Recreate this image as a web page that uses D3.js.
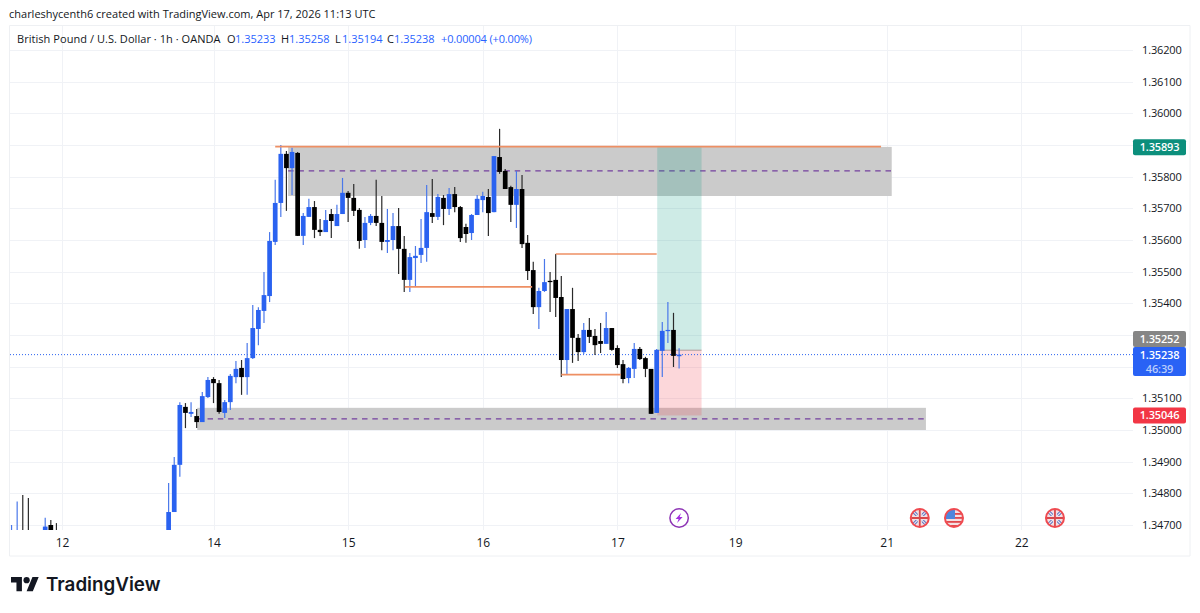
<!DOCTYPE html>
<html>
<head>
<meta charset="utf-8">
<script src="https://cdn.jsdelivr.net/npm/d3@7"></script>
<style>
html,body{margin:0;padding:0;background:#fff;overflow:hidden}
svg{display:block}
text{font-family:"Open Sans",Roboto,sans-serif}
</style>
</head>
<body>
<svg id="c" width="1200" height="613"></svg>
<script>
// ---------- data ----------
const titleText = "charleshycenth6 created with TradingView.com, Apr 17, 2026 11:13 UTC";
const symbolText = "British Pound / U.S. Dollar · 1h · OANDA";
const ohlcLabels = ["O","H","L","C"];
const ohlcValues = ["1.35233","1.35258","1.35194","1.35238"];
const changeText = "+0.00004 (+0.00%)";

const priceTicks = [1.362,1.361,1.360,1.359,1.358,1.357,1.356,1.355,1.354,1.353,1.352,1.351,1.350,1.349,1.348,1.347];
const labelledTicks = [1.362,1.361,1.360,1.358,1.357,1.356,1.355,1.354,1.353,1.351,1.350,1.349,1.348,1.347];
const dayBars   = [-27,0,24,48,72,93,120,144];
const dayLabels = ["12","14","15","16","17","19","21","22"];

const earlyBars  = [-36,-35,-34,-33,-30,-29,-28];
const earlyOpen  = [1.34640,1.34640,1.34670,1.34670,1.34650,1.34700,1.34675];
const earlyHigh  = [1.34700,1.34774,1.34795,1.34785,1.34723,1.34716,1.34706];
const earlyLow   = [1.34630,1.34630,1.34630,1.34630,1.34640,1.34640,1.34640];
const earlyClose = [1.34670,1.34660,1.34640,1.34640,1.34695,1.34650,1.34650];

const firstBar = -8;
const open = [1.34650,1.34741,1.34890,1.35073,1.35051,1.35044,1.35025,1.35104,1.35161,1.35148,
1.35054,1.35088,1.35167,1.35196,1.35167,1.35227,1.35319,1.35376,1.35423,1.35594,
1.35717,1.35872,1.35827,1.35875,1.35613,1.35673,1.35704,1.35632,1.35625,1.35682,
1.35644,1.35682,1.35749,1.35733,1.35695,1.35600,1.35654,1.35676,1.35654,1.35594,
1.35600,1.35644,1.35572,1.35474,1.35543,1.35553,1.35575,1.35685,1.35673,1.35733,
1.35698,1.35745,1.35704,1.35641,1.35622,1.35679,1.35726,1.35736,1.35688,1.35862,
1.35818,1.35767,1.35711,1.35761,1.35591,1.35505,1.35388,1.35439,1.35471,1.35474,
1.35420,1.35221,1.35382,1.35291,1.35246,1.35316,1.35297,1.35281,1.35272,1.35322,
1.35259,1.35208,1.35164,1.35193,1.35256,1.35227,1.35193,1.35054,1.35250,1.35313,
1.35316,1.35233];
const high = [1.34833,1.34915,1.35088,1.35085,1.35088,1.35066,1.35120,1.35167,1.35167,1.35158,
1.35095,1.35177,1.35218,1.35221,1.35275,1.35395,1.35388,1.35499,1.35625,1.35790,
1.35900,1.35881,1.35891,1.35878,1.35685,1.35730,1.35723,1.35666,1.35695,1.35698,
1.35711,1.35796,1.35755,1.35777,1.35701,1.35673,1.35682,1.35790,1.35739,1.35698,
1.35685,1.35701,1.35613,1.35559,1.35581,1.35666,1.35774,1.35793,1.35745,1.35742,
1.35764,1.35767,1.35707,1.35651,1.35682,1.35742,1.35752,1.35761,1.35865,1.35951,
1.35824,1.35771,1.35818,1.35805,1.35616,1.35531,1.35449,1.35540,1.35499,1.35556,
1.35486,1.35382,1.35449,1.35303,1.35338,1.35354,1.35319,1.35338,1.35373,1.35322,
1.35268,1.35221,1.35199,1.35275,1.35262,1.35231,1.35193,1.35256,1.35341,1.35404,
1.35370,1.35258];
const low = [1.34600,1.34741,1.34852,1.35006,1.35041,1.35006,1.35025,1.35101,1.35085,1.35051,
1.35038,1.35063,1.35148,1.35111,1.35111,1.35224,1.35268,1.35338,1.35404,1.35584,
1.35673,1.35692,1.35742,1.35613,1.35584,1.35673,1.35606,1.35613,1.35625,1.35606,
1.35644,1.35682,1.35657,1.35676,1.35572,1.35575,1.35647,1.35644,1.35568,1.35559,
1.35568,1.35493,1.35436,1.35436,1.35452,1.35527,1.35531,1.35654,1.35663,1.35647,
1.35679,1.35688,1.35594,1.35591,1.35600,1.35679,1.35688,1.35613,1.35688,1.35809,
1.35761,1.35657,1.35638,1.35575,1.35474,1.35366,1.35319,1.35436,1.35373,1.35357,
1.35167,1.35177,1.35212,1.35218,1.35240,1.35275,1.35237,1.35243,1.35272,1.35250,
1.35196,1.35148,1.35148,1.35164,1.35221,1.35167,1.35051,1.35054,1.35167,1.35275,
1.35199,1.35194];
const close = [1.34741,1.34890,1.35079,1.35054,1.35057,1.35025,1.35107,1.35158,1.35148,1.35057,
1.35088,1.35171,1.35193,1.35167,1.35227,1.35322,1.35379,1.35426,1.35597,1.35717,
1.35872,1.35827,1.35878,1.35613,1.35676,1.35704,1.35632,1.35625,1.35663,1.35660,
1.35682,1.35749,1.35733,1.35692,1.35597,1.35654,1.35676,1.35654,1.35594,1.35600,
1.35644,1.35572,1.35474,1.35546,1.35550,1.35575,1.35688,1.35673,1.35736,1.35698,
1.35745,1.35704,1.35606,1.35619,1.35679,1.35730,1.35739,1.35685,1.35865,1.35815,
1.35761,1.35711,1.35761,1.35587,1.35502,1.35388,1.35439,1.35467,1.35467,1.35417,
1.35221,1.35382,1.35291,1.35246,1.35316,1.35294,1.35268,1.35272,1.35322,1.35253,
1.35205,1.35161,1.35196,1.35256,1.35224,1.35193,1.35051,1.35253,1.35313,1.35316,
1.35234,1.35238];

// drawn levels, in chart units: [fromBar, toBar, price]
const swingLines = [[11,119,1.35895],[34.1,56.8,1.35452],[61,79,1.35556],[62,72.6,1.35175]];
// supply/demand zones: [fromBar, toBar, topPrice, bottomPrice, midPrice]
const zones = [[13.3,120.9,1.35894,1.35739,1.35818],[-2.9,127,1.35070,1.35000,1.35035]];
// long position tool
const positionBars = [79.1,87];
const targetPrice = 1.35893, entryPrice = 1.35252, stopPrice = 1.35046, lastPrice = 1.35238;
const countdown = "46:39";
// calendar event markers
const eventBars = [83,125.9,132,150];
const eventKinds = ["bolt","uk","us","uk"];

// ---------- scales ----------
const svg = d3.select("#c");
const y = d3.scaleLinear().domain([1.347,1.362]).range([525,50]);
const x = d3.scaleLinear().domain([0,144]).range([213.5,1021.3]);
const PANE = {l:10,r:1133,t:26,b:530,axisB:556,right:1190};

const BLUE="#2a62f0", BLUEW="#4a78ea", BLACK="#000", BLACKW="#2a2a2a";

// frame + grid
const grid = svg.append("g").attr("stroke","#f0f2f6").attr("stroke-width",1);
grid.selectAll("line.h").data(priceTicks).join("line").attr("class","h")
  .attr("x1",PANE.l).attr("x2",PANE.r).attr("y1",d=>Math.round(y(d))+.5).attr("y2",d=>Math.round(y(d))+.5);
grid.selectAll("line.v").data(dayBars).join("line").attr("class","v")
  .attr("x1",d=>Math.round(x(d))+.5).attr("x2",d=>Math.round(x(d))+.5).attr("y1",PANE.t).attr("y2",PANE.b);
const frame = svg.append("g").attr("stroke","#eef0f3").attr("fill","none");
frame.append("path").attr("d",`M9.5 ${PANE.axisB}V${PANE.t-.5}H${PANE.right}V${PANE.axisB}H9.5`);

// zones
const zg = svg.append("g");
zg.selectAll("rect").data(zones).join("rect")
  .attr("x",d=>x(d[0])).attr("width",d=>x(d[1])-x(d[0]))
  .attr("y",d=>y(d[2])).attr("height",d=>y(d[3])-y(d[2])).attr("fill","#cbcbcb");

// position tool
svg.append("rect").attr("x",x(positionBars[0])).attr("width",x(positionBars[1])-x(positionBars[0]))
  .attr("y",y(targetPrice)).attr("height",y(entryPrice)-y(targetPrice)).attr("fill","rgba(8,153,129,.2)");
svg.append("rect").attr("x",x(positionBars[0])).attr("width",x(positionBars[1])-x(positionBars[0]))
  .attr("y",y(entryPrice)).attr("height",y(stopPrice)-y(entryPrice)).attr("fill","rgba(242,54,69,.2)");
svg.append("line").attr("x1",x(positionBars[0])).attr("x2",x(positionBars[1]))
  .attr("y1",y(entryPrice)).attr("y2",y(entryPrice)).attr("stroke","#b09a9a").attr("stroke-width",1);

// zone midlines
zg.selectAll("line").data(zones).join("line")
  .attr("x1",d=>x(d[0])).attr("x2",d=>x(d[1])).attr("y1",d=>y(d[4])).attr("y2",d=>y(d[4]))
  .attr("stroke","#74409f").attr("stroke-width",1.2).attr("stroke-dasharray","5.5 4.8");

// last price dotted
svg.append("line").attr("x1",PANE.l).attr("x2",PANE.r).attr("y1",y(lastPrice)).attr("y2",y(lastPrice))
  .attr("stroke",BLUE).attr("stroke-width",1).attr("stroke-dasharray","1 2");

// candles
const bars = [];
earlyBars.forEach((b,k)=>bars.push({b,o:earlyOpen[k],h:earlyHigh[k],l:earlyLow[k],c:earlyClose[k]}));
open.forEach((o,k)=>bars.push({b:firstBar+k,o,h:high[k],l:low[k],c:close[k]}));
svg.append("clipPath").attr("id","pane").append("rect")
  .attr("x",PANE.l).attr("y",PANE.t).attr("width",PANE.r-PANE.l).attr("height",PANE.b-PANE.t);
const cg = svg.append("g").attr("clip-path","url(#pane)");
const up = d=>d.c>=d.o;
cg.selectAll("line").data(bars).join("line")
  .attr("x1",d=>x(d.b)).attr("x2",d=>x(d.b)).attr("y1",d=>y(d.h)).attr("y2",d=>y(d.l))
  .attr("stroke",d=>up(d)?BLUEW:BLACKW).attr("stroke-width",1.2);
cg.selectAll("rect").data(bars).join("rect")
  .attr("x",d=>x(d.b)-2.35).attr("width",4.7)
  .attr("y",d=>y(Math.max(d.o,d.c))).attr("height",d=>Math.max(1.2,Math.abs(y(d.o)-y(d.c))))
  .attr("fill",d=>up(d)?BLUE:BLACK);

// swing lines
svg.append("g").selectAll("line").data(swingLines).join("line")
  .attr("x1",d=>x(d[0])).attr("x2",d=>x(d[1])).attr("y1",d=>y(d[2])).attr("y2",d=>y(d[2]))
  .attr("stroke","#ee8f63").attr("stroke-width",1.6);

// price axis
const axFont = '500 11px "Open Sans",sans-serif';
const yAxis = d3.axisRight(y).tickValues(labelledTicks).tickSize(0).tickPadding(0).tickFormat(d3.format(".5f"));
const ya = svg.append("g").attr("transform","translate(1142,0)").call(yAxis);
ya.select(".domain").remove();
ya.selectAll("text").attr("fill","#131722").style("font",axFont).style("letter-spacing","-.15px");

// day axis
const xAxis = d3.axisBottom(x).tickValues(dayBars).tickSize(0).tickPadding(0).tickFormat((d,i)=>dayLabels[i]);
const xa = svg.append("g").attr("transform","translate(0,538)").call(xAxis);
xa.select(".domain").remove();
xa.selectAll("text").attr("fill","#131722").style("font",'500 12px "Open Sans",sans-serif');

// price badges
function badge(cy,h,fill,lines,tops){
  svg.append("rect").attr("x",1133).attr("y",cy-h/2).attr("width",53).attr("height",h).attr("rx",2).attr("fill",fill);
  lines.forEach((t,i)=>svg.append("text").attr("x",1159.5).attr("y",tops[i]).attr("text-anchor","middle")
    .attr("fill",i?"#b9cdfc":"#fff").style("font",'600 11px "Open Sans",sans-serif').style("letter-spacing","-.15px").text(t));
}
const fmt = d3.format(".5f");
badge(y(targetPrice),16,"#0c8f7c",[fmt(targetPrice)],[y(targetPrice)+4]);
badge(339,16,"#868686",[fmt(entryPrice)],[343]);
badge(361.5,29,"#2962f5",[fmt(lastPrice),countdown],[358.5,372.5]);
badge(y(stopPrice),16,"#f23645",[fmt(stopPrice)],[y(stopPrice)+4]);

// header
const hf='11px "Open Sans",sans-serif';
svg.append("text").attr("x",9).attr("y",18).attr("fill","#131722").style("font",hf).text(titleText);
svg.append("text").attr("x",17).attr("y",43).attr("fill","#131722").style("font",hf).style("letter-spacing",".05px").text(symbolText);
const lx=[227,281,335,387], vx=[235,289,342,394];
ohlcLabels.forEach((l,i)=>{
  svg.append("text").attr("x",lx[i]).attr("y",43).attr("fill","#131722").style("font",hf).text(l);
  svg.append("text").attr("x",vx[i]).attr("y",43).attr("fill","#2962ff").style("font",hf).text(ohlcValues[i]);
});
svg.append("text").attr("x",441).attr("y",43).attr("fill","#2962ff").style("font",hf).style("letter-spacing","-.15px").text(changeText);

// events
const ev = svg.append("g");
eventBars.forEach((b,i)=>{
  const cx=x(b), cy=518, g=ev.append("g").attr("transform",`translate(${cx},${cy})`);
  const kind=eventKinds[i];
  if(kind==="bolt"){
    g.append("circle").attr("r",9.2).attr("fill","#fff").attr("stroke","#8e35b5").attr("stroke-width",1.5);
    g.append("path").attr("d","M2 -5L-3.5 1H-0.5L-2 5L3.5 -1H0.5Z").attr("fill","#a32fe0");
    return;
  }
  const id="clip"+i;
  g.append("clipPath").attr("id",id).append("circle").attr("r",8.5);
  const f=g.append("g").attr("clip-path",`url(#${id})`);
  f.append("circle").attr("r",9).attr("fill","#f4dfe2");
  if(kind==="uk"){
    f.append("path").attr("d","M-9 -9L9 9M9 -9L-9 9").attr("stroke","#5878c8").attr("stroke-width",3.2);
    f.append("path").attr("d","M-9 -9L9 9M9 -9L-9 9").attr("stroke","#f2e4e8").attr("stroke-width",1.2);
    f.append("path").attr("d","M0 -9V9M-9 0H9").attr("stroke","#f4dfe2").attr("stroke-width",4);
    f.append("path").attr("d","M0 -9V9M-9 0H9").attr("stroke","#d8484c").attr("stroke-width",1.8);
  } else {
    f.append("rect").attr("x",-9).attr("y",-9).attr("width",18).attr("height",18).attr("fill","#f4dfe2");
    [-5,-1,3,7].forEach(v=>f.append("rect").attr("x",-9).attr("y",v).attr("width",18).attr("height",1.8).attr("fill","#e0484c"));
    f.append("rect").attr("x",-9).attr("y",-9).attr("width",10).attr("height",10).attr("fill","#4d86dc");
  }
  g.append("circle").attr("r",9).attr("fill","none").attr("stroke","#ef4a50").attr("stroke-width",2);
});

// logo
const lg = svg.append("g").attr("transform","translate(11,574) scale(.78)").attr("fill","#131722");
lg.append("path").attr("d","M14 22H7V11H0V4h14v18zM28 22h-8l7.5-18h8L28 22z");
lg.append("circle").attr("cx",20).attr("cy",8).attr("r",4);
svg.append("text").attr("x",46).attr("y",591).attr("fill","#131722").style("font",'600 18.8px Inter,sans-serif').text("TradingView");
</script>
</body>
</html>
